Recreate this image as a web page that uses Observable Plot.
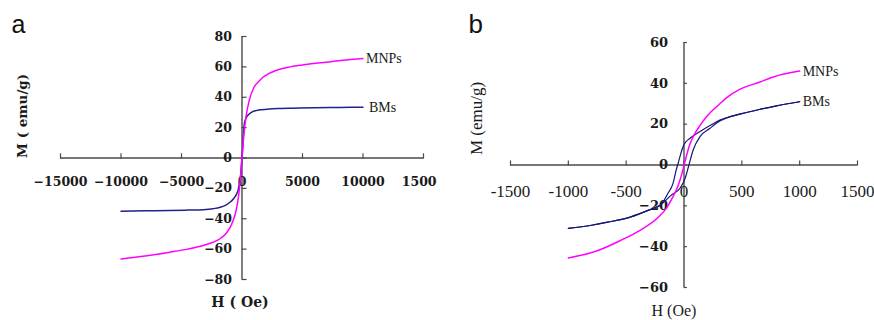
<!DOCTYPE html>
<html>
<head>
<meta charset="utf-8">
<script src="https://cdn.jsdelivr.net/npm/d3@7"></script>
<script src="https://cdn.jsdelivr.net/npm/@observablehq/plot@0.6"></script>
<style>
  body { margin: 0; background: #fff; }
  #wrap { display: flex; width: 874px; height: 320px; }
</style>
</head>
<body>
<div id="wrap"></div>
<script>
// ---------- Panel a ----------
const aXTicks = [-15000, -10000, -5000, 0, 5000, 10000, 15000];
const aXTickLabels = ["−15000", "−10000", "−5000", "0", "5000", "10000", "15000"];
const aYTicks = [-80, -60, -40, -20, 0, 20, 40, 60, 80];
const aYTickLabels = ["−80", "−60", "−40", "−20", "0", "20", "40", "60", "80"];

const aMNPsH = [-10000, -8000, -5950, -4500, -3200, -2400, -1790, -1300, -965, -750, -550, -400, -300, -150, -50, 0, 60, 150, 330, 600, 990, 1400, 1710, 2200, 2810, 3800, 5010, 6300, 7760, 9000, 10000];
const aMNPsM = [-66.5, -64.5, -62, -60, -57.6, -55.5, -53, -49.5, -45.5, -41.5, -36.7, -31, -26, -14.8, -5, 0, 6, 15, 27, 38, 46.6, 50.5, 53, 55.5, 57.6, 59.7, 61.3, 62.6, 63.8, 64.8, 65.5];

const aBMsH = [-10000, -8000, -6000, -4500, -3200, -2400, -1790, -1300, -965, -700, -440, -300, -220, -120, -40, 0, 50, 190, 350, 600, 850, 1160, 1600, 2260, 3200, 4190, 6000, 8000, 10000];
const aBMsM = [-35, -34.8, -34.6, -34.3, -34, -33.4, -32.4, -30.8, -29, -26.8, -23.6, -20.5, -17, -12, -4, 0, 6, 22.5, 26.5, 29, 30.4, 31.2, 31.8, 32.3, 32.6, 32.8, 33.1, 33.3, 33.4];

// ---------- Panel b ----------
const bXTicks = [-1500, -1000, -500, 0, 500, 1000, 1500];
const bXTickLabels = ["-1500", "-1000", "-500", "0", "500", "1000", "1500"];
const bYTicks = [-60, -40, -20, 0, 20, 40, 60];
const bYTickLabels = ["−60", "−40", "−20", "0", "20", "40", "60"];

const bMNPsH = [-1000, -750, -550, -380, -230, -150, -95, -50, -17, 10, 50, 90, 140, 200, 310, 370, 480, 650, 765, 1000];
const bMNPsM = [-45.5, -42, -37, -32, -26, -21, -15.5, -10, -4, 2, 10, 15, 19.5, 24, 30, 33, 37, 40.5, 43, 46];

// BMs hysteresis: descending (upper) branch and ascending (lower) branch
const bBMsDownH = [-1000, -800, -660, -465, -300, -200, -140, -95, -70, -45, -20, 0, 50, 100, 170, 240, 310, 400, 500, 650, 800, 1000];
const bBMsDownM = [-31, -29.5, -28, -25.5, -22, -19.5, -14, -9, -3, 2, 7, 10, 13, 15, 17.5, 19.8, 22, 23.7, 25.2, 27.2, 29, 31];
const bBMsUpH = [-1000, -800, -660, -465, -300, -200, -115, -30, 13, 40, 80, 140, 225, 310, 400, 500, 650, 800, 1000];
const bBMsUpM = [-31, -29.5, -28, -25.5, -22, -19.5, -15, -11, -6, -0.5, 7.5, 14, 18, 21.5, 23.7, 25.2, 27.2, 29, 31];

const pts = (H, M, extra = {}) => H.map((h, i) => ({H: h, M: M[i], ...extra}));
const ticks = (v, l) => v.map((d, i) => ({v: d, label: l[i]}));

const MAG = "#ff00ff";
const NAVY_A = "#22228c";
const NAVY_B = "#161678";
const AXC = "#4a4a4a";
const boldSerif = "DejaVu Serif";
const serif = "Liberation Serif";

const aMNPs = pts(aMNPsH, aMNPsM);
const aBMs = pts(aBMsH, aBMsM);

const plotA = Plot.plot({
  width: 437, height: 320,
  marginLeft: 60, marginRight: 14, marginTop: 36, marginBottom: 41,
  x: {domain: [-15000, 15000], axis: null},
  y: {domain: [-80, 80], axis: null},
  style: {background: "white", overflow: "visible"},
  marks: [
    Plot.ruleY([0], {x1: -15000, x2: 15000, stroke: AXC, strokeWidth: 1.4}),
    Plot.ruleX([0], {y1: -80, y2: 80, stroke: AXC, strokeWidth: 1.4}),
    Plot.ruleX(aXTicks, {x: d => d, y1: -0.8, y2: 2.8, stroke: AXC, strokeWidth: 1.2}),
    Plot.ruleY(aYTicks, {y: d => d, x1: 0, x2: 420, stroke: AXC, strokeWidth: 1.2}),
    Plot.text(ticks(aXTicks, aXTickLabels), {x: "v", y: 0, dy: 24, text: "label", fontFamily: boldSerif, fontWeight: "bold", fontSize: 12.5, fill: "#1a1a1a"}),
    Plot.text(ticks(aYTicks, aYTickLabels), {x: 0, y: "v", dx: -10, textAnchor: "end", text: "label", fontFamily: boldSerif, fontWeight: "bold", fontSize: 12.5, fill: "#1a1a1a"}),
    Plot.line(aBMs, {x: "H", y: "M", stroke: NAVY_A, strokeWidth: 1.5, curve: "monotone-x"}),
    Plot.line(aMNPs, {x: "H", y: "M", stroke: MAG, strokeWidth: 1.5, curve: "monotone-x"}),
    Plot.text(aMNPs, Plot.selectLast({x: "H", y: "M", text: () => "MNPs", dx: 3, textAnchor: "start", fontFamily: serif, fontSize: 14, fill: "#1a1a1a"})),
    Plot.text(aBMs, Plot.selectLast({x: "H", y: "M", text: () => "BMs", dx: 6, textAnchor: "start", fontFamily: serif, fontSize: 14, fill: "#1a1a1a"})),
    Plot.text(["H ( Oe)"], {x: 0, y: -80, dx: -2, dy: 23, text: d => d, fontFamily: boldSerif, fontWeight: "bold", fontSize: 14, fill: "#1a1a1a"}),
    Plot.text(["M ( emu/g)"], {frameAnchor: "left", dx: -38, rotate: -90, text: d => d, fontFamily: boldSerif, fontWeight: "bold", fontSize: 13.5, fill: "#1a1a1a"}),
    Plot.text(["a"], {frameAnchor: "top-left", dx: -49, dy: -12, textAnchor: "start", lineAnchor: "middle", text: d => d, fontFamily: "Liberation Sans", fontSize: 25, fill: "#111"})
  ]
});

const bMNPs = pts(bMNPsH, bMNPsM);
const bBMs = pts(bBMsDownH, bBMsDownM, {branch: "down"}).concat(pts(bBMsUpH, bBMsUpM, {branch: "up"}));
const bBMsDown = pts(bBMsDownH, bBMsDownM);

const plotB = Plot.plot({
  width: 437, height: 320,
  marginLeft: 73, marginRight: 17, marginTop: 42, marginBottom: 33,
  x: {domain: [-1500, 1500], axis: null},
  y: {domain: [-60, 60], axis: null},
  style: {background: "white", overflow: "visible"},
  marks: [
    Plot.ruleY([0], {x1: -1500, x2: 1500, stroke: AXC, strokeWidth: 1.4}),
    Plot.ruleX([0], {y1: -60, y2: 60, stroke: AXC, strokeWidth: 1.4}),
    Plot.ruleX(bXTicks, {x: d => d, y1: -0.5, y2: 2, stroke: AXC, strokeWidth: 1.2}),
    Plot.ruleY(bYTicks, {y: d => d, x1: 0, x2: 30, stroke: AXC, strokeWidth: 1.2}),
    Plot.text(ticks(bXTicks, bXTickLabels), {x: "v", y: 0, dy: 27, text: "label", fontFamily: serif, fontSize: 17, fill: "#1a1a1a"}),
    Plot.text(ticks(bYTicks, bYTickLabels), {x: 0, y: "v", dx: -16, textAnchor: "end", text: "label", fontFamily: boldSerif, fontWeight: "bold", fontSize: 13, fill: "#1a1a1a"}),
    Plot.line(bBMs, {x: "H", y: "M", z: "branch", stroke: NAVY_B, strokeWidth: 1.2, curve: "monotone-x"}),
    Plot.line(bMNPs, {x: "H", y: "M", stroke: MAG, strokeWidth: 1.5, curve: "monotone-x"}),
    Plot.text(bMNPs, Plot.selectLast({x: "H", y: "M", text: () => "MNPs", dx: 3, textAnchor: "start", fontFamily: serif, fontSize: 14, fill: "#1a1a1a"})),
    Plot.text(bBMsDown, Plot.selectLast({x: "H", y: "M", text: () => "BMs", dx: 3, textAnchor: "start", fontFamily: serif, fontSize: 14, fill: "#1a1a1a"})),
    Plot.text(["H (Oe)"], {x: 0, y: -60, dx: -10, dy: 23, text: d => d, fontFamily: serif, fontSize: 16, fill: "#1a1a1a"}),
    Plot.text(["M (emu/g)"], {frameAnchor: "left", dx: -34, dy: -10, rotate: -90, text: d => d, fontFamily: serif, fontSize: 17, fill: "#1a1a1a"}),
    Plot.text(["b"], {frameAnchor: "top-left", dx: -42, dy: -18, textAnchor: "start", lineAnchor: "middle", text: d => d, fontFamily: "Liberation Sans", fontSize: 26, fill: "#111"})
  ]
});

document.getElementById("wrap").append(plotA, plotB);
</script>
</body>
</html>
